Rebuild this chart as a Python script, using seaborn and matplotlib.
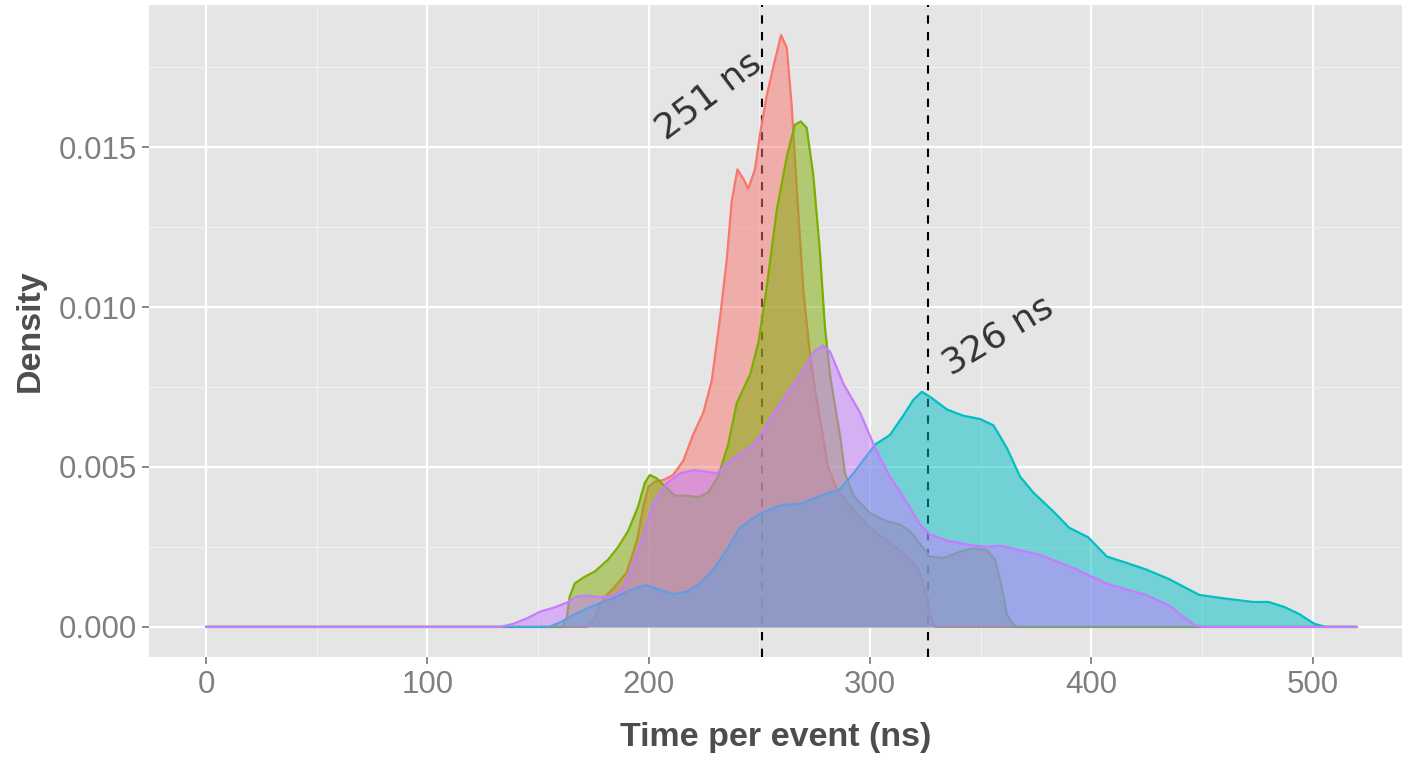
import numpy as np
import pandas as pd
import seaborn as sns
import matplotlib.pyplot as plt

# density curves (time per event in ns, density)
red_x = [0, 172, 175, 178, 181, 184, 190, 194.7, 197.7, 200, 203, 207, 211, 215.7, 220,
         224.7, 228.5, 232.3, 235.3, 237.5, 240.1, 242.8, 245, 248, 250.3, 253.3, 256.3,
         259.8, 262.4, 264.6, 266.9, 269.9, 272.9, 275.9, 278.9, 281, 285, 292.5, 300,
         307.5, 315, 319.6, 322.6, 325.6, 327.9, 329.5, 520]
red_y = [0, 0, 0.0002, 0.0007, 0.0010, 0.0012, 0.0017, 0.0027, 0.0038, 0.0044, 0.00454,
         0.0046, 0.00475, 0.0052, 0.0060, 0.0067, 0.0077, 0.0097, 0.0115, 0.0133, 0.0143,
         0.0140, 0.0137, 0.0143, 0.0154, 0.0166, 0.0175, 0.0185, 0.0181, 0.0163, 0.0137,
         0.0105, 0.0085, 0.0071, 0.0059, 0.0050, 0.0043, 0.00366, 0.0031, 0.0027, 0.0023,
         0.0020, 0.0017, 0.00095, 0.0002, 0, 0]

green_x = [0, 161, 163, 164.3, 166.6, 171.1, 175.6, 181.6, 186.2, 190.7, 195.2, 198.2,
           200.5, 203.5, 207.3, 211.8, 217.9, 222.4, 226.9, 231.4, 235.9, 239.8, 245.9,
           249.6, 253.3, 257.8, 262.4, 266.1, 268.7, 271.4, 274.4, 277.4, 279.6, 281.9,
           284, 286.4, 288.7, 292.5, 300, 307.5, 313.6, 318, 322.6, 327, 333, 340.7,
           346.7, 352.7, 356.5, 359.5, 361.8, 364.8, 367, 520]
green_y = [0, 0, 0.0003, 0.00095, 0.00136, 0.00157, 0.00173, 0.0021, 0.0025, 0.0030,
           0.00376, 0.0045, 0.00475, 0.00465, 0.0044, 0.0041, 0.0041, 0.00405, 0.0042,
           0.0047, 0.0057, 0.0070, 0.0079, 0.0089, 0.0106, 0.0130, 0.0147, 0.0157, 0.0158,
           0.0156, 0.0141, 0.0117, 0.0094, 0.0079, 0.0070, 0.0060, 0.0048, 0.0041, 0.00355,
           0.0033, 0.0032, 0.0030, 0.0026, 0.0022, 0.00215, 0.00235, 0.00246, 0.0024,
           0.0021, 0.00126, 0.0004, 0.00006, 0, 0]

cyan_x = [0, 155, 160, 166.1, 172.1, 178.1, 184.1, 190.1, 196.2, 199.1, 205.2, 211.2,
          217.2, 223.2, 229.2, 235.2, 241.2, 247.3, 252, 259.6, 268.6, 277.4, 286.4,
          292.5, 302.3, 309, 315, 319.6, 323.4, 327, 334.7, 342.2, 349.7, 355.8, 361.8,
          367.8, 373.8, 383, 390, 398.6, 407, 416, 424.6, 435, 448.8, 459, 473, 480, 487,
          494, 500.7, 506, 520]
cyan_y = [0, 0, 0.00014, 0.00038, 0.00058, 0.00074, 0.0009, 0.0011, 0.00126, 0.0013,
          0.00116, 0.00103, 0.0011, 0.00136, 0.0018, 0.0024, 0.0031, 0.0034, 0.0036,
          0.0038, 0.00385, 0.0041, 0.0043, 0.0048, 0.0057, 0.0060, 0.0066, 0.0071, 0.00735,
          0.0072, 0.0068, 0.0066, 0.0065, 0.0063, 0.0056, 0.0047, 0.0042, 0.0036, 0.0031,
          0.0028, 0.0022, 0.0020, 0.0018, 0.0015, 0.0010, 0.0009, 0.00078, 0.00078,
          0.00063, 0.0004, 0.0001, 0, 0]

purple_x = [0, 133, 138.9, 145, 151, 157, 163, 167.6, 172.1, 178.1, 184.1, 188.6, 193.2,
            197.7, 202.2, 208.2, 214.2, 220.2, 226.2, 230.7, 235.2, 241.2, 247.3, 250.5,
            256.6, 262.6, 268.6, 274.7, 278.6, 282, 288, 295.5, 302.3, 309, 316.6, 322.6,
            327, 334.7, 345.2, 352.7, 358.8, 367.8, 376.9, 393.4, 407, 424.6, 435, 441.9,
            447, 450, 520]
purple_y = [0, 0, 0.0001, 0.00027, 0.00048, 0.0006, 0.00076, 0.00095, 0.00098, 0.00093,
            0.00097, 0.00126, 0.0020, 0.0029, 0.0039, 0.0045, 0.0048, 0.0049, 0.00485,
            0.0048, 0.0051, 0.0054, 0.0057, 0.0060, 0.0067, 0.0073, 0.0079, 0.0086, 0.0088,
            0.0086, 0.0076, 0.0067, 0.0056, 0.0047, 0.0039, 0.0032, 0.0029, 0.0027,
            0.00256, 0.0025, 0.00254, 0.0024, 0.00225, 0.0018, 0.00135, 0.0010, 0.00068,
            0.0003, 0.00005, 0, 0]

medians = [251, 326]
median_labels = ["251 ns", "326 ns"]

series = [("red", red_x, red_y, "#F8766D"),
          ("green", green_x, green_y, "#7CAE00"),
          ("cyan", cyan_x, cyan_y, "#00BFC4"),
          ("purple", purple_x, purple_y, "#C77CFF")]

sns.set_style("darkgrid", {
    "axes.facecolor": "#E5E5E5",
    "grid.color": "white",
    "xtick.bottom": True,
    "ytick.left": True,
})
plt.rcParams["font.family"] = ["Liberation Sans", "DejaVu Sans"]

fig = plt.figure(figsize=(14.02, 7.57), dpi=100)
ax = fig.add_axes([0.1063, 0.1321, 0.8937, 0.8613])

# median lines sit under the densities
for m in medians:
    ax.axvline(m, color="black", linestyle=(0, (4, 4)), linewidth=1.5, zorder=1.5)

# each group: fill then outline, stacked in order
for i, (name, xs, ys, col) in enumerate(series):
    z = 2 + i
    ax.fill_between(xs, ys, 0, color=col, alpha=0.5, linewidth=0, zorder=z)
    sns.lineplot(x=xs, y=ys, ax=ax, color=col, linewidth=1.6, sort=False,
                 estimator=None, zorder=z + 0.5)

ax.text(medians[0] - 24, 0.0166, median_labels[0], rotation=37, fontsize=26,
        color="#333333", family=["DejaVu Sans"], ha="center", va="center", zorder=10)
ax.text(medians[1] + 32, 0.0091, median_labels[1], rotation=31, fontsize=26,
        color="#333333", family=["DejaVu Sans"], ha="center", va="center", zorder=10)

ax.set_xlim(-25.8, 540.4)
ax.set_ylim(-0.00094, 0.01944)
ax.set_xticks([0, 100, 200, 300, 400, 500])
ax.set_yticks([0.0, 0.005, 0.010, 0.015])
ax.set_yticklabels(["0.000", "0.005", "0.010", "0.015"])
ax.set_xticks([50, 150, 250, 350, 450], minor=True)
ax.set_yticks([0.0025, 0.0075, 0.0125, 0.0175], minor=True)
ax.grid(which="major", color="white", linewidth=1.6)
ax.grid(which="minor", color="#F2F2F2", linewidth=0.8)
ax.set_axisbelow(True)
ax.tick_params(which="major", length=5, width=1.3, color="#7F7F7F",
               labelcolor="#7F7F7F", labelsize=22.5, pad=4)
ax.tick_params(which="minor", length=0)
for s in ax.spines.values():
    s.set_visible(False)

ax.set_xlabel("Time per event (ns)", fontsize=24.5, fontweight="bold", color="#4D4D4D",
              labelpad=16)
ax.set_ylabel("Density", fontsize=24.5, fontweight="bold", color="#4D4D4D", labelpad=9)

fig.savefig("out.png", dpi=100)
